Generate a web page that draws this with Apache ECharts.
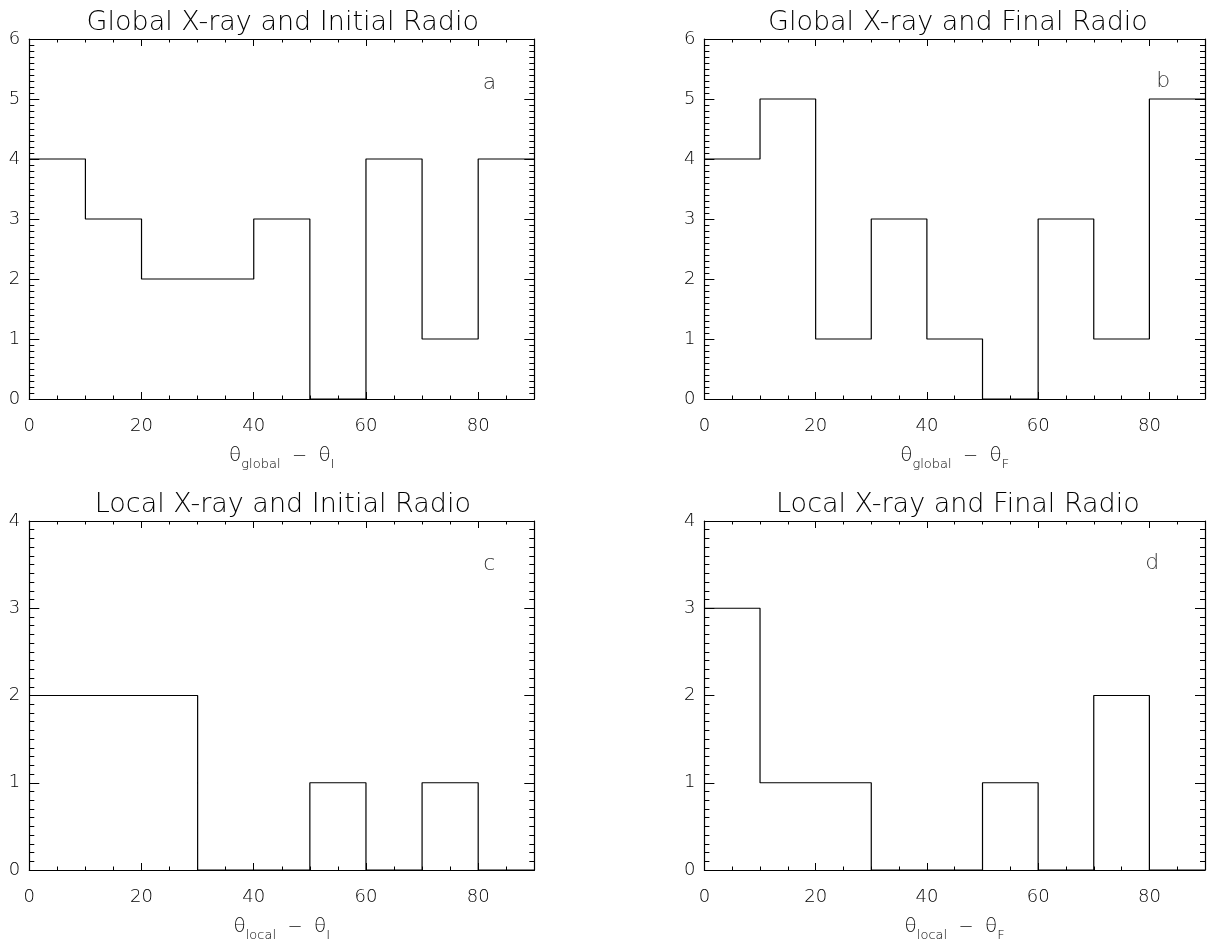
<!DOCTYPE html>
<html>
<head>
<meta charset="utf-8">
<script src="https://cdn.jsdelivr.net/npm/echarts@6/dist/echarts.min.js"></script>
<style>
html,body{margin:0;padding:0;background:#fff;}
#chart{width:1208px;height:943px;}
</style>
</head>
<body>
<div id="chart"></div>
<script>
// ---- data ----
const binEdges = [0, 10, 20, 30, 40, 50, 60, 70, 80, 90];
const countsA = [4, 3, 2, 2, 3, 0, 4, 1, 4];
const countsB = [4, 5, 1, 3, 1, 0, 3, 1, 5];
const countsC = [2, 2, 2, 0, 0, 1, 0, 1, 0];
const countsD = [3, 1, 1, 0, 0, 1, 0, 2, 0];
const panelTitles = [
  'Global X-ray and Initial Radio',
  'Global X-ray and Final Radio',
  'Local X-ray and Initial Radio',
  'Local X-ray and Final Radio'
];
const panelLetters = ['a', 'b', 'c', 'd'];
const letterPos = [[82, 5.27], [82.5, 5.3], [82, 3.5], [80.5, 3.52]];
const yMaxes = [6, 6, 4, 4];
const xLabelTicks = [0, 20, 40, 60, 80];
const axisSubs = [['global', 'I'], ['global', 'F'], ['local', 'I'], ['local', 'F']];
const allCounts = [countsA, countsB, countsC, countsD];

// ---- layout ----
const FONT = 'DejaVu Sans';
const gridLefts = [29.3, 704.4];
const gridTops = [39, 521];
const GW = 505, GH = 360;
const black = '#000';

const chart = echarts.init(document.getElementById('chart'), null, {renderer: 'canvas'});

const grids = [], xAxes = [], yAxes = [], series = [], titles = [];

function tick(len) {
  return {show: true, inside: true, length: len, lineStyle: {color: black, width: 1}};
}
function line(show) {
  return {show: show, onZero: false, lineStyle: {color: black, width: 1.2}};
}

for (let i = 0; i < 4; i++) {
  const left = gridLefts[i % 2];
  const top = gridTops[Math.floor(i / 2)];
  grids.push({left: left, top: top, width: GW, height: GH, containLabel: false});

  titles.push({
    text: panelTitles[i],
    left: left + GW / 2 - 4,
    top: top - 35,
    textAlign: 'center',
    textStyle: {fontFamily: FONT, fontWeight: 'lighter', fontSize: 27, color: black}
  });

  const baseX = {gridIndex: i, type: 'value', min: 0, max: 90, splitLine: {show: false}};
  const sub = axisSubs[i];
  // bottom major
  xAxes.push(Object.assign({}, baseX, {
    position: 'bottom', interval: 20,
    axisLine: line(true),
    axisTick: tick(7),
    axisLabel: {
      show: true, margin: 18, color: black, fontFamily: FONT, fontWeight: 'lighter', fontSize: 18,
      formatter: v => (xLabelTicks.indexOf(v) >= 0 ? String(v) : '')
    },
    name: '{t|θ}{s|' + sub[0] + '}{m|  −  }{t|θ}{s|' + sub[1] + '}',
    nameLocation: 'middle', nameGap: 42,
    nameTextStyle: {
      color: black, fontFamily: FONT,
      rich: {
        t: {fontSize: 20, lineHeight: 30, fontFamily: FONT, color: black, fontWeight: 'lighter'},
        s: {fontSize: 13, lineHeight: 13, verticalAlign: 'bottom', fontFamily: FONT, color: black, fontWeight: 'lighter'},
        m: {fontSize: 18, lineHeight: 30, fontFamily: FONT, color: black, fontWeight: 'lighter'}
      }
    }
  }));
  // bottom minor
  xAxes.push(Object.assign({}, baseX, {
    position: 'bottom', interval: 5,
    axisLine: line(false),
    axisTick: tick(3.5),
    axisLabel: {show: false}
  }));
  // top major
  xAxes.push(Object.assign({}, baseX, {
    position: 'top', interval: 20,
    axisLine: line(true),
    axisTick: tick(7),
    axisLabel: {show: false}
  }));
  // top minor
  xAxes.push(Object.assign({}, baseX, {
    position: 'top', interval: 5,
    axisLine: line(false),
    axisTick: tick(3.5),
    axisLabel: {show: false}
  }));

  const baseY = {
    gridIndex: i, type: 'value', min: 0, max: yMaxes[i],
    splitLine: {show: false}, minorTick: {show: false}
  };
  // left major
  yAxes.push(Object.assign({}, baseY, {
    position: 'left', interval: 1,
    axisLine: line(true),
    axisTick: tick(10),
    axisLabel: {show: true, margin: 9, color: black, fontFamily: FONT, fontWeight: 'lighter', fontSize: 18}
  }));
  // left minor
  yAxes.push(Object.assign({}, baseY, {
    position: 'left', interval: 0.1,
    axisLine: line(false),
    axisTick: tick(5),
    axisLabel: {show: false}
  }));
  // right major
  yAxes.push(Object.assign({}, baseY, {
    position: 'right', interval: 1,
    axisLine: line(true),
    axisTick: tick(10),
    axisLabel: {show: false}
  }));
  // right minor
  yAxes.push(Object.assign({}, baseY, {
    position: 'right', interval: 0.1,
    axisLine: line(false),
    axisTick: tick(5),
    axisLabel: {show: false}
  }));

  const counts = allCounts[i];
  const pts = counts.map((c, k) => [binEdges[k], c]);
  pts.push([binEdges[binEdges.length - 1], counts[counts.length - 1]]);
  series.push({
    type: 'line', xAxisIndex: i * 4, yAxisIndex: i * 4,
    data: pts, step: 'end', symbol: 'none', silent: true,
    lineStyle: {color: black, width: 1.2}, clip: false
  });
  series.push({
    type: 'scatter', xAxisIndex: i * 4, yAxisIndex: i * 4,
    data: [letterPos[i]], symbolSize: 0, silent: true,
    label: {
      show: true, position: 'inside', formatter: panelLetters[i],
      color: black, fontFamily: FONT, fontWeight: 'lighter', fontSize: 22
    }
  });
}

chart.setOption({
  animation: false,
  backgroundColor: '#fff',
  title: titles,
  grid: grids,
  xAxis: xAxes,
  yAxis: yAxes,
  series: series
});
</script>
</body>
</html>
